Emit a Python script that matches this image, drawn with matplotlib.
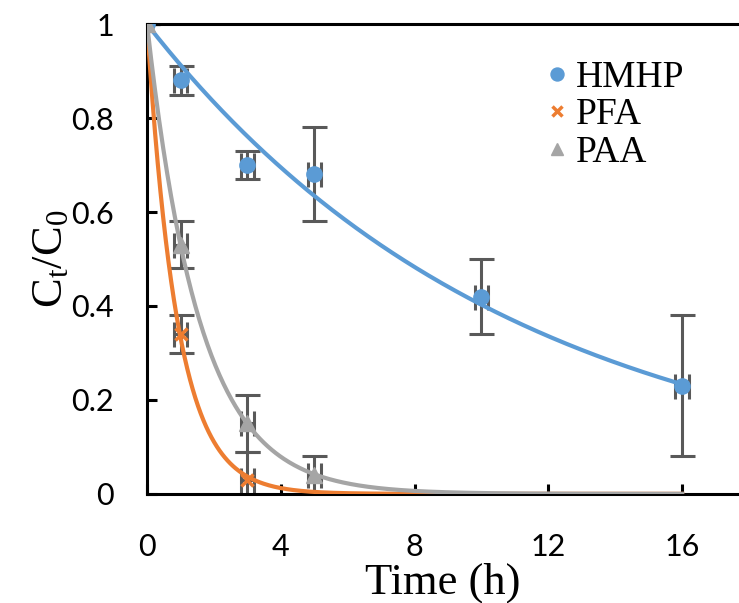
import numpy as np
import matplotlib
matplotlib.use("Agg")
import matplotlib.pyplot as plt

# measured points (time in h, C_t/C_0) with error bars
hmhp_t = [0, 1, 3, 5, 10, 16]
hmhp_c = [1.0, 0.88, 0.70, 0.68, 0.42, 0.23]
hmhp_err = [0.0, 0.03, 0.03, 0.10, 0.08, 0.15]

pfa_t = [0, 1, 3]
pfa_c = [1.0, 0.34, 0.03]
pfa_err = [0.0, 0.04, 0.06]

paa_t = [0, 1, 3, 5]
paa_c = [1.0, 0.53, 0.15, 0.04]
paa_err = [0.0, 0.05, 0.06, 0.04]

# first-order fit rate constants (1/h)
k_hmhp = 0.091
k_pfa = 1.10
k_paa = 0.635

blue = "#5B9BD5"
orange = "#ED7D31"
gray = "#A5A5A5"
barcol = "#595959"

plt.rcParams["mathtext.fontset"] = "custom"
plt.rcParams["mathtext.rm"] = "Liberation Serif"
plt.rcParams["mathtext.it"] = "Liberation Serif"

fig = plt.figure(figsize=(7.39, 6.03), dpi=100)
ax = fig.add_axes([0.199, 0.181, 0.801, 0.779])

tt = np.linspace(0, 16, 400)
for t, c, e in [(hmhp_t, hmhp_c, hmhp_err), (pfa_t, pfa_c, pfa_err), (paa_t, paa_c, paa_err)]:
    ax.errorbar(t, c, yerr=e, xerr=[0.2 if v > 0 else 0 for v in e], fmt="none",
                ecolor=barcol, elinewidth=2.2, capsize=9, capthick=2.2, zorder=2)

ax.plot(tt, np.exp(-k_hmhp * tt), color=blue, lw=3, zorder=3)
ax.plot(tt, np.exp(-k_pfa * tt), color=orange, lw=3, zorder=3)
ax.plot(tt, np.exp(-k_paa * tt), color=gray, lw=3, zorder=3)

ax.plot(hmhp_t, hmhp_c, "o", color=blue, ms=11, ls="none", label="HMHP", zorder=4)
ax.plot(pfa_t, pfa_c, "x", color=orange, ms=8, mew=2.5, ls="none", label="PFA", zorder=4)
ax.plot(paa_t, paa_c, "^", color=gray, ms=11, ls="none", label="PAA", zorder=4)

ax.set_xlim(0, 17.7)
ax.set_ylim(0, 1)
ax.set_xticks([0, 4, 8, 12, 16])
ax.set_yticks([0, 0.2, 0.4, 0.6, 0.8, 1])
ax.set_yticklabels(["0", "0.2", "0.4", "0.6", "0.8", "1"])

for s in ["left", "bottom", "top"]:
    ax.spines[s].set_linewidth(2.2)
ax.spines["right"].set_visible(False)
ax.tick_params(direction="in", length=7, width=2.2, top=False, right=False)
ax.tick_params(axis="y", pad=24)
ax.tick_params(axis="x", pad=28)
for lab in ax.get_xticklabels() + ax.get_yticklabels():
    lab.set_fontfamily("Lato")
    lab.set_fontsize(22)

ax.set_xlabel("Time (h)", fontfamily="Liberation Serif", fontsize=32, labelpad=1)
ax.set_ylabel(r"$\mathrm{C}_\mathrm{t}/\mathrm{C}_0$", fontsize=32, labelpad=0)

leg = ax.legend(loc="upper right", bbox_to_anchor=(0.965, 0.995), frameon=False,
                prop={"family": "Liberation Serif", "size": 27}, handlelength=0.4,
                handletextpad=0.3, labelspacing=0.08, markerscale=0.85)

fig.savefig("out.png", dpi=100)
